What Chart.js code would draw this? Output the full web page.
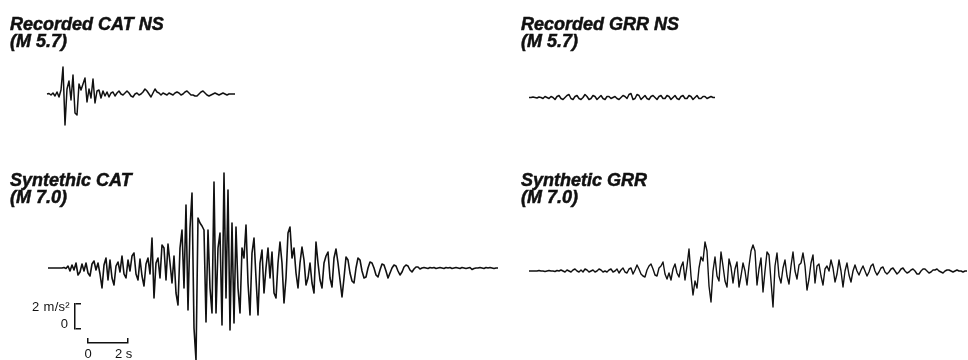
<!DOCTYPE html>
<html>
<head>
<meta charset="utf-8">
<script src="https://cdn.jsdelivr.net/npm/chart.js@4.4.1/dist/chart.umd.min.js"></script>
<style>
  html, body { margin:0; padding:0; background:#fff; }
  #wrap { position:relative; width:968px; height:360px; overflow:hidden; background:#fff; }
  canvas { position:absolute; }
  .ttl { position:absolute; font-family:"Liberation Sans", Arial, sans-serif; font-weight:bold; font-style:italic;
         font-size:18px; line-height:17px; color:#111; white-space:nowrap; -webkit-text-stroke:0.5px #111; }
  .lbl { position:absolute; font-family:"Liberation Sans", Arial, sans-serif; font-size:13px; line-height:14px; color:#111; white-space:nowrap; }
</style>
</head>
<body>
<div id="wrap">
  <canvas id="recCAT" width="210" height="110" style="left:40px;top:40px"></canvas>
  <canvas id="recGRR" width="210" height="110" style="left:520px;top:40px"></canvas>
  <canvas id="synCAT" width="470" height="200" style="left:40px;top:160px"></canvas>
  <canvas id="synGRR" width="448" height="200" style="left:520px;top:160px"></canvas>
  <canvas id="barAcc" width="12" height="31" style="left:71px;top:301px"></canvas>
  <canvas id="barTime" width="44" height="9" style="left:86px;top:336px"></canvas>

  <div class="ttl" style="left:10px;top:16px">Recorded CAT NS<br>(M 5.7)</div>
  <div class="ttl" style="left:521px;top:16px">Recorded GRR NS<br>(M 5.7)</div>
  <div class="ttl" style="left:10px;top:172px">Syntethic CAT<br>(M 7.0)</div>
  <div class="ttl" style="left:521px;top:172px">Synthetic GRR<br>(M 7.0)</div>

  <div class="lbl" style="left:18px;top:300px;width:52px;text-align:right;letter-spacing:0.3px">2 m/s²</div>
  <div class="lbl" style="left:56px;top:317px;width:12px;text-align:right">0</div>
  <div class="lbl" style="left:82px;top:347px;width:12px;text-align:center">0</div>
  <div class="lbl" style="left:115px;top:347px">2 s</div>
</div>
<script>
// ---- data (acceleration in m/s², sampled every DT seconds) ----
const DT = 0.1;
const scaleTime  = [0, 2];   // s
const scaleAccel = [0, 2];   // m/s²

const recordedCAT = [0,0.04,-0.08,0.08,-0.16,0.16,-0.24,0.32,2.16,-2.48,
 0.4,1.04,-0.48,1.52,-1.52,-1.68,0.8,0.32,0.8,1.28,
 -0.64,0.4,-0.32,1.2,-0.72,0.24,0.32,-0.32,0.24,-0.16,
 0.16,-0.24,0.08,0.16,-0.16,0.08,0.24,0,-0.08,0.08,
 0.24,0.08,-0.16,-0.24,0,0.08,-0.08,0,0.16,0.4,
 0.24,0,-0.24,0.08,0.4,0.16,0.08,-0.08,0.08,0,
 -0.08,0.08,0,-0.08,0.08,0.16,0.08,-0.08,0,0.16,
 0.24,0.08,-0.08,-0.08,-0.16,-0.16,0,0.16,0.24,0.08,
 -0.08,-0.16,-0.08,0,0.08,0,-0.08,0,0.08,0,
 -0.08,0,0,0,0];

const recordedGRR = [0,0,0.04,0,-0.04,0.04,0,-0.08,0.08,0,
 -0.08,0.08,0,-0.16,0.08,0.16,-0.08,-0.16,0,0.16,
 0.24,-0.08,-0.16,0.08,0.16,-0.08,-0.16,0,0.24,0.08,
 -0.16,-0.08,0.16,0.08,-0.16,0,0.16,-0.08,-0.16,0.08,
 0.08,-0.08,0,0.08,-0.08,-0.16,0,0.16,0.08,-0.08,
 0.24,0.32,-0.16,-0.08,0.24,0.16,-0.16,0,0.16,-0.08,
 -0.16,0.08,0.16,0,-0.16,0.08,0.16,-0.08,-0.08,0.16,
 0.08,-0.16,0,0.16,-0.08,-0.16,0.08,0.16,-0.08,-0.08,
 0.16,0.08,-0.16,0,0.16,-0.08,-0.08,0.08,0.08,-0.08,
 0,0.08,0,0];

const syntheticCAT = [0,0,0,0,0,0,0,0,0.04,-0.04,
 0.16,-0.24,0.24,-0.16,0.4,-0.56,-0.32,0.32,-0.24,0.4,
 -0.4,-0.64,0.32,0.56,-0.16,0.4,-0.48,-1.6,0.24,0.8,
 -0.96,0.64,-0.8,-1.36,0.16,0.48,-0.32,0.96,-0.48,-0.8,
 0.64,-0.24,0.96,1.2,-0.48,-0.96,0.72,-0.64,-1.44,0.32,
 0.8,-0.48,2.4,-2.4,0.4,0.8,-0.8,1.84,1.6,-0.96,
 1.92,0.4,-1.2,0.96,-2.0,-2.96,1.6,3.04,-1.6,5.04,
 -3.36,3.2,6.0,-4.8,-7.36,4.0,3.6,3.36,3.04,-4.32,
 3.04,-1.6,-3.6,6.88,-3.6,1.6,2.8,-4.56,7.6,-2.4,
 6.24,-4.96,3.6,-4.4,3.28,-1.6,-3.6,1.6,0.8,3.44,
 -1.2,-3.76,1.2,2.4,-0.8,-3.76,0.4,1.44,-2.0,0,
 1.6,-0.8,1.28,-2.0,-2.4,0.4,2.08,0.4,-2.8,-0.8,
 2.8,3.28,0.8,1.6,-0.4,-1.6,0.4,1.68,0.64,-1.36,
 -0.8,0.4,-1.2,-2.0,2.08,0.4,-0.96,-1.6,0.4,0.96,
 1.28,-0.8,-1.52,0.8,1.52,0.4,-0.96,-2.32,-0.8,0.88,
 0.64,-0.4,-1.04,-1.2,0,0.8,0.64,-0.24,-0.8,-0.72,
 0,0.48,0.4,0,-0.56,-0.72,-0.16,0.32,0.24,-0.24,
 -0.8,-0.4,0,0.24,0.16,-0.24,-0.56,-0.32,0.08,0.24,
 0.16,-0.16,-0.32,-0.08,0.08,0.08,-0.08,0,0.04,0,
 -0.04,0.04,0,0.04,-0.04,0,0.04,0,-0.04,0.04,
 0,0.04,-0.04,0,0.04,0,-0.04,0.04,0,-0.04,
 0,0.04,-0.12,-0.04,0,0,0.04,0,-0.04,0.04,
 0,0.04,0,-0.04,0,0];

const syntheticGRR = [0,0,0,0,0,0.04,0,0,-0.04,0,
 0.04,0,0,-0.04,0.04,0,0.08,0,-0.08,0.08,
 0,-0.08,0.08,0.16,0,-0.08,0.08,-0.08,0.16,0.08,
 -0.08,0,0.08,-0.08,0,0.16,0.08,-0.08,0,-0.08,
 0.08,0.16,-0.08,0,0.16,-0.16,0.08,0.24,-0.08,-0.16,
 0.16,0.24,-0.24,0.08,0.48,0.16,-0.24,-0.4,-0.48,0.08,
 0.4,0.56,0.16,-0.32,-0.4,0.24,0.4,0.72,-0.24,-0.64,
 -0.16,-0.72,0.16,0.56,-0.16,-0.48,0.32,0.72,-0.72,0.4,
 1.76,-0.4,-1.92,-0.8,-1.36,0.24,1.12,0.8,2.32,1.6,
 -1.2,-2.48,0,1.12,-0.4,-0.8,1.52,0.4,-0.8,-1.28,
 0.96,0.32,-0.96,0.16,0.72,-1.28,-0.4,0.64,0,-1.12,
 0.4,1.6,2.08,1.6,-1.12,0.16,1.04,-1.68,0,1.52,
 1.28,-0.8,-2.88,0.4,1.44,-0.4,-0.96,0.24,0.88,-0.4,
 -1.04,0.4,1.52,0,-0.64,0.48,0.64,1.44,0.4,-1.52,
 -0.64,0.64,1.28,-0.96,0.4,0.56,-0.4,-1.12,0.16,0.4,
 0,0.88,0.24,-0.88,-0.24,0.88,0,-1.28,0,0.64,
 -0.32,-0.88,0,0.48,0,-0.32,0.08,0.4,0,-0.4,
 -0.08,0.4,0.56,0,-0.32,-0.08,0.24,0.32,-0.08,-0.24,
 -0.08,0.16,0.24,0,-0.24,-0.08,0.16,0.24,0,-0.16,
 -0.08,0.08,0.16,0,-0.24,-0.24,0,0.16,0.16,0,
 -0.16,-0.08,0.08,0.08,0.16,0,-0.08,-0.16,0,0.08,
 0.08,0,-0.08,0,0.08,0,0,-0.08,0,0];

// ---- layout (pixel scale shared by all traces) ----
const PX_PER_S = 20, PX_PER_MS2 = 12.5;
const INK = '#111';

function makeTrace(id, values, originX, originY, lw) {
  const c = document.getElementById(id);
  const w = c.width, h = c.height;
  const pts = values.map((v, i) => ({ x: i * DT, y: v }));
  new Chart(c, {
    type: 'line',
    data: { datasets: [{ data: pts, borderColor: INK, borderWidth: lw, pointRadius: 0,
                         tension: 0, fill: false, borderJoinStyle: 'round' }] },
    options: {
      responsive: false, animation: false, events: [], devicePixelRatio: 1,
      layout: { padding: 0 },
      plugins: { legend: { display: false }, tooltip: { enabled: false } },
      scales: {
        x: { type: 'linear', display: false, min: -originX / PX_PER_S, max: (w - originX) / PX_PER_S },
        y: { type: 'linear', display: false, min: -(h - originY) / PX_PER_MS2, max: originY / PX_PER_MS2 }
      }
    }
  });
}

makeTrace('recCAT', recordedCAT, 7, 54, 1.5);
makeTrace('recGRR', recordedGRR, 9, 57.5, 1.5);
makeTrace('synCAT', syntheticCAT, 8, 108, 1.6);
makeTrace('synGRR', syntheticGRR, 9, 111, 1.4);

// scale bars drawn as axes (border + grid at the two ticks)
new Chart(document.getElementById('barAcc'), {
  type: 'line', data: { datasets: [] },
  options: {
    responsive: false, animation: false, events: [], devicePixelRatio: 1,
    layout: { padding: { left: 4, right: 2, top: 3, bottom: 3 } },
    plugins: { legend: { display: false }, tooltip: { enabled: false } },
    scales: {
      x: { type: 'linear', display: false, min: 0, max: 1 },
      y: { type: 'linear', min: scaleAccel[0], max: scaleAccel[1],
           ticks: { display: false, stepSize: scaleAccel[1] - scaleAccel[0] },
           grid: { drawTicks: false, color: INK, lineWidth: 1.5 },
           border: { display: true, color: INK, width: 1.5 } }
    }
  }
});
new Chart(document.getElementById('barTime'), {
  type: 'line', data: { datasets: [] },
  options: {
    responsive: false, animation: false, events: [], devicePixelRatio: 1,
    layout: { padding: { left: 2, right: 2, top: 2, bottom: 2 } },
    plugins: { legend: { display: false }, tooltip: { enabled: false } },
    scales: {
      y: { type: 'linear', display: false, min: 0, max: 1 },
      x: { type: 'linear', position: 'bottom', min: scaleTime[0], max: scaleTime[1],
           ticks: { display: false, stepSize: scaleTime[1] - scaleTime[0] },
           grid: { drawTicks: false, color: INK, lineWidth: 1.5 },
           border: { display: true, color: INK, width: 1.5 } }
    }
  }
});
</script>
</body>
</html>
